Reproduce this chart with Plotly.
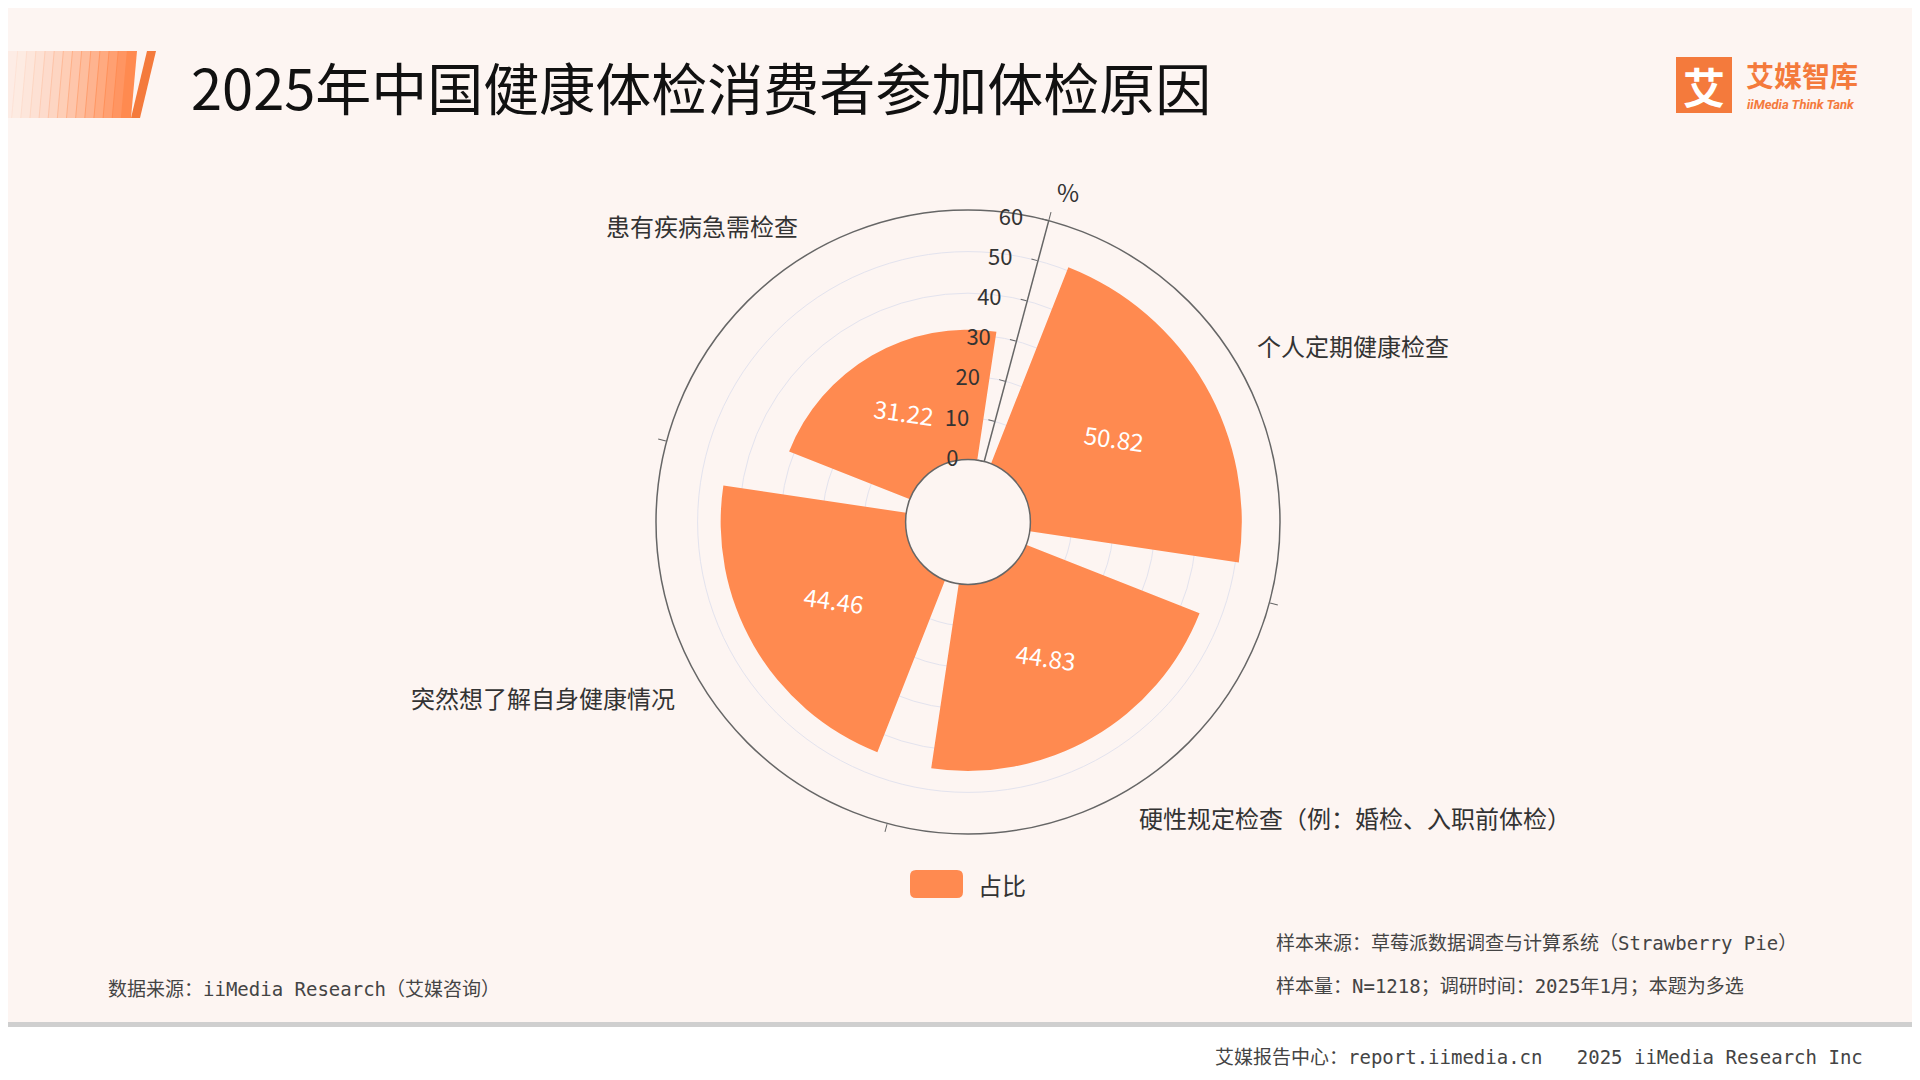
import math
import plotly.graph_objects as go

categories = ["个人定期健康检查", "硬性规定检查（例：婚检、入职前体检）", "突然想了解自身健康情况", "患有疾病急需检查"]
values = [50.82, 44.83, 44.46, 31.22]
series_name = "占比"
radial_ticks = [0, 10, 20, 30, 40, 50, 60]

W, H = 1920, 1080
ORANGE = "#FF8A50"
FONT = "Noto Sans CJK SC"
MONO = "DejaVu Sans Mono, Noto Sans CJK SC"

sector = 360 / len(categories)
theta_centers = [sector * (i + 0.5) for i in range(len(categories))]
theta_bounds = [sector * i for i in range(len(categories))]

fig = go.Figure()
fig.add_trace(go.Barpolar(
    r=values, theta=theta_centers, name=series_name, customdata=categories,
    marker=dict(color=ORANGE, line=dict(width=0)), width=[77] * 4,
    showlegend=False,
))

cx, cy, R = 960, 514, 312
hole = 0.2
rot = 75
fig.update_layout(
    width=W, height=H, margin=dict(l=0, r=0, t=0, b=0),
    paper_bgcolor="#fdf5f2", plot_bgcolor="#fdf5f2",
    font=dict(family=FONT, color="#333"),
    polar=dict(
        domain=dict(x=[(cx - R) / W, (cx + R) / W], y=[1 - (cy + R) / H, 1 - (cy - R) / H]),
        bgcolor="rgba(0,0,0,0)", hole=hole,
        angularaxis=dict(rotation=rot, direction="clockwise", showticklabels=False,
                         tickvals=theta_bounds, ticks="outside", ticklen=8, tickcolor="#666",
                         linecolor="#666", linewidth=1.5, showgrid=False),
        radialaxis=dict(range=[0, 60], tickvals=radial_ticks, angle=rot, tickangle=75,
                        side="counterclockwise",
                        ticks="outside", ticklen=6, tickcolor="#666",
                        linecolor="#666", linewidth=1.5, gridcolor="#e3e3ee",
                        tickfont=dict(size=22, color="#333"), layer="above traces"),
    ),
    bargap=0,
)

ann = []
for i, v in enumerate(values):
    ang = math.radians(rot - theta_centers[i])
    rp = (hole + (1 - hole) * (v / 2) / 60) * R
    x = cx + rp * math.cos(ang)
    y = cy - rp * math.sin(ang)
    ann.append(dict(x=x / W, y=1 - y / H, text=f"{v:.2f}", textangle=8,
                    font=dict(size=24, color="white")))

cat_pos = [(1345, 337), (1347, 809), (535, 689), (694, 217)]
for c, (x, y) in zip(categories, cat_pos):
    ann.append(dict(x=x / W, y=1 - y / H, text=c, font=dict(size=24, color="#333")))
ann.append(dict(x=1060 / W, y=1 - 183 / H, text="%", font=dict(size=24, color="#333")))
ann.append(dict(x=968 / W, y=1 - 876 / H, xanchor="left", text=series_name,
                font=dict(size=24, color="#333")))

ann += [
    dict(x=181 / W, y=1 - 77 / H, xanchor="left", text="2025年中国健康体检消费者参加体检原因",
         font=dict(size=56, color="#111")),
    dict(x=1736 / W, y=1 - 67 / H, xanchor="left", text="<b>艾媒智库</b>",
         font=dict(size=28, color="#F47A3C")),
    dict(x=1737 / W, y=1 - 96 / H, xanchor="left", text="<b><i>iiMedia Think Tank</i></b>",
         font=dict(size=13, color="#F47A3C", family="Roboto")),
    dict(x=1696 / W, y=1 - 77 / H, text="<b>艾</b>", font=dict(size=42, color="white")),
    dict(x=98 / W, y=1 - 981 / H, xanchor="left", text="数据来源：iiMedia Research（艾媒咨询）",
         font=dict(size=19, color="#444", family=MONO)),
    dict(x=1266 / W, y=1 - 935 / H, xanchor="left", text="样本来源：草莓派数据调查与计算系统（Strawberry Pie）",
         font=dict(size=19, color="#444", family=MONO)),
    dict(x=1266 / W, y=1 - 978 / H, xanchor="left", text="样本量：N=1218；调研时间：2025年1月；本题为多选",
         font=dict(size=19, color="#444", family=MONO)),
    dict(x=1857 / W, y=1 - 1049 / H, xanchor="right",
         text="艾媒报告中心：report.iimedia.cn   2025 iiMedia Research Inc",
         font=dict(size=19, color="#444", family=MONO)),
]
for a in ann:
    a.setdefault("xanchor", "center")
    a.update(xref="paper", yref="paper", showarrow=False, yanchor="middle")
fig.update_layout(annotations=ann)

shapes = []
n = 14
for k in range(n):
    x0 = k * 128 / n
    x1 = (k + 1) * 128 / n + 1
    op = 0.08 + 0.92 * (k / (n - 1)) ** 1.5
    shapes.append(dict(type="path", xref="paper", yref="paper", line=dict(width=0),
                       fillcolor=ORANGE, opacity=op,
                       path=f"M {x0/W},{1-43/H} L {x1/W},{1-43/H} L {(x1 - 6)/W},{1-110/H} L {(x0 - 6)/W},{1-110/H} Z"))
shapes.append(dict(type="path", xref="paper", yref="paper", line=dict(width=0), fillcolor="#F47A3C",
                   path=f"M {139/W},{1-43/H} L {148/W},{1-43/H} L {132/W},{1-110/H} L {123/W},{1-110/H} Z"))
shapes.append(dict(type="rect", xref="paper", yref="paper", x0=1668 / W, x1=1724 / W,
                   y0=1 - 105 / H, y1=1 - 49 / H, fillcolor="#F47A3C", line=dict(width=0)))
lx0, lx1, ly0, ly1, rr = 902, 955, 862, 890, 6
shapes.append(dict(type="path", xref="paper", yref="paper", line=dict(width=0), fillcolor=ORANGE,
                   path=(f"M {(lx0+rr)/W},{1-ly0/H} L {(lx1-rr)/W},{1-ly0/H} Q {lx1/W},{1-ly0/H} {lx1/W},{1-(ly0+rr)/H} "
                         f"L {lx1/W},{1-(ly1-rr)/H} Q {lx1/W},{1-ly1/H} {(lx1-rr)/W},{1-ly1/H} "
                         f"L {(lx0+rr)/W},{1-ly1/H} Q {lx0/W},{1-ly1/H} {lx0/W},{1-(ly1-rr)/H} "
                         f"L {lx0/W},{1-(ly0+rr)/H} Q {lx0/W},{1-ly0/H} {(lx0+rr)/W},{1-ly0/H} Z")))
shapes.append(dict(type="rect", xref="paper", yref="paper", x0=0, x1=1,
                   y0=1 - 1019 / H, y1=1 - 1014 / H, fillcolor="#cfcfcf", line=dict(width=0)))
shapes.append(dict(type="rect", xref="paper", yref="paper", x0=0, x1=1,
                   y0=0, y1=1 - 1019 / H, fillcolor="#ffffff", line=dict(width=0), layer="below"))
fig.update_layout(shapes=shapes)

fig.write_html("out.html")
